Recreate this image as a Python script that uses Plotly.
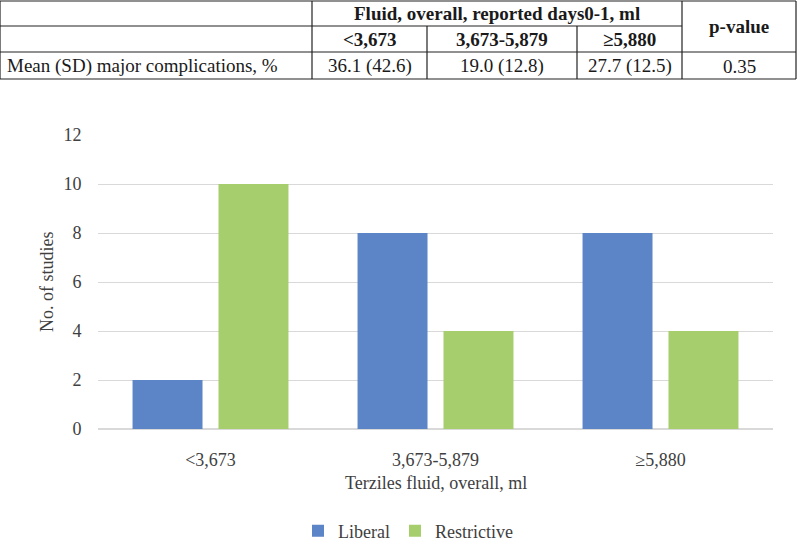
import plotly.graph_objects as go

# --- data ---
terziles = ["<3,673", "3,673-5,879", "≥5,880"]
liberal = [2, 8, 8]
restrictive = [10, 4, 4]

table_header = "Fluid, overall, reported days0-1, ml"
table_row_label = "Mean (SD) major complications, %"
table_values = ["36.1 (42.6)", "19.0 (12.8)", "27.7 (12.5)"]
p_value = "0.35"

W, H = 797, 543
FONT = "Liberation Serif"
BLUE = "#5b85c6"
GREEN = "#a6ce6c"


def px(x):
    return x / W


def py(y):
    return 1 - y / H


fig = go.Figure()
fig.add_trace(go.Bar(x=terziles, y=liberal, name="Liberal",
                     marker=dict(color=BLUE, line=dict(width=0))))
fig.add_trace(go.Bar(x=terziles, y=restrictive, name="Restrictive",
                     marker=dict(color=GREEN, line=dict(width=0))))

# table grid (top of the page)
col_edges = [0, 312, 427, 577, 682, 796]
row_edges = [1, 26, 52, 79]
shapes = []
line = dict(color="#222222", width=1.2)
for y in (row_edges[0], row_edges[2], row_edges[3]):
    shapes.append(dict(type="line", xref="paper", yref="paper",
                       x0=px(col_edges[0]), x1=px(col_edges[-1]),
                       y0=py(y), y1=py(y), line=line))
shapes.append(dict(type="line", xref="paper", yref="paper",
                   x0=px(col_edges[0]), x1=px(col_edges[4]),
                   y0=py(row_edges[1]), y1=py(row_edges[1]), line=line))
for x in (col_edges[0], col_edges[1], col_edges[4], col_edges[5]):
    shapes.append(dict(type="line", xref="paper", yref="paper",
                       x0=px(x), x1=px(x), y0=py(row_edges[0]), y1=py(row_edges[3]),
                       line=line))
for x in (col_edges[2], col_edges[3]):
    shapes.append(dict(type="line", xref="paper", yref="paper",
                       x0=px(x), x1=px(x), y0=py(row_edges[1]), y1=py(row_edges[3]),
                       line=line))

ann = []
tfont = dict(family=FONT, size=19, color="#1a1a1a")
bfont = dict(family=FONT, size=19, color="#1a1a1a", weight="bold")


def cell(text, x, y, font, xanchor="center"):
    ann.append(dict(text=text, x=px(x), y=py(y), xref="paper", yref="paper",
                    xanchor=xanchor, yanchor="middle", showarrow=False, font=font))


cell(table_header, (col_edges[1] + col_edges[4]) / 2, 13.5, bfont)
cell("p-value", (col_edges[4] + col_edges[5]) / 2, 26.5, bfont)
for i, t in enumerate(terziles):
    cell(t, (col_edges[i + 1] + col_edges[i + 2]) / 2, 39, bfont)
cell(table_row_label, 5, 66, tfont, xanchor="left")
for i, v in enumerate(table_values):
    cell(v, (col_edges[i + 1] + col_edges[i + 2]) / 2, 66, tfont)
cell(p_value, (col_edges[4] + col_edges[5]) / 2, 66, tfont)

# axis titles
ann.append(dict(text="No. of studies", x=px(47), y=py(282), xref="paper", yref="paper",
                textangle=-90, showarrow=False, xanchor="center", yanchor="middle",
                font=dict(family=FONT, size=18, color="#404040")))
ann.append(dict(text="Terziles fluid, overall, ml", x=px(435.5), y=py(483), xref="paper",
                yref="paper", showarrow=False, xanchor="center", yanchor="middle",
                font=dict(family=FONT, size=18, color="#404040")))

fig.update_layout(
    width=W, height=H,
    margin=dict(l=0, r=0, t=0, b=0, autoexpand=False),
    paper_bgcolor="white", plot_bgcolor="white",
    font=dict(family=FONT, size=18, color="#404040"),
    barmode="group", bargap=0.236, bargroupgap=0.186,
    shapes=shapes, annotations=ann,
    legend=dict(orientation="h", x=px(298), y=py(531), xanchor="left", yanchor="middle",
                font=dict(family=FONT, size=18, color="#404040"),
                itemwidth=30, traceorder="normal"),
    xaxis=dict(domain=[px(98), px(773)], showgrid=False, showline=True,
               linecolor="#d9d9d9", linewidth=1, ticks="outside", ticklen=14,
               tickcolor="rgba(0,0,0,0)", tickfont=dict(size=18)),
    yaxis=dict(domain=[py(429), py(135)], range=[0, 12], dtick=2, showgrid=True,
               gridcolor="#d9d9d9", gridwidth=1, zeroline=True, zerolinecolor="#d9d9d9",
               ticks="outside", ticklen=12, tickcolor="rgba(0,0,0,0)",
               tickfont=dict(size=18)),
)

fig.write_html("out.html", config={"displayModeBar": False},
               post_script="document.body.style.margin='0';")
